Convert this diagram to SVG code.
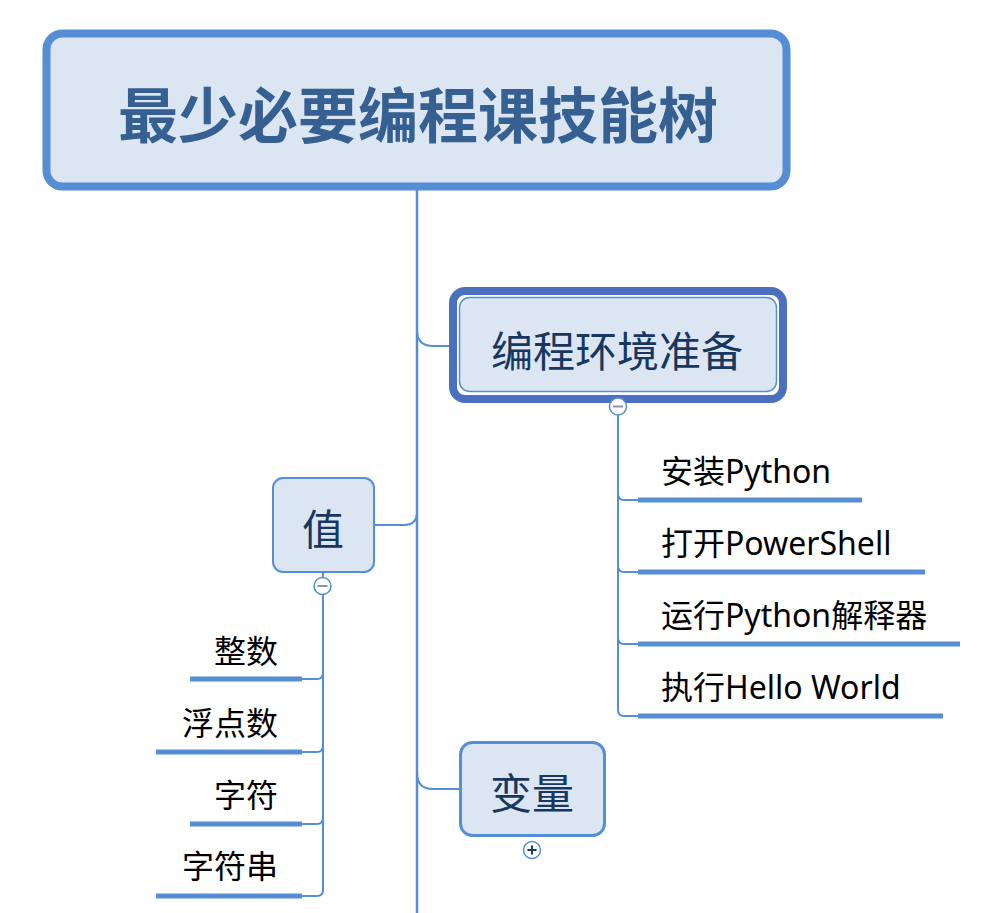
<svg xmlns="http://www.w3.org/2000/svg" width="989" height="913" viewBox="0 0 989 913">
<style>
.ln{fill:none;stroke:#558ed5;stroke-width:2}
.ul{fill:none;stroke:#558ed5;stroke-width:5}
.box{fill:#dce6f2;stroke:#558ed5}
.t{font-family:"Noto Sans CJK SC","Liberation Sans",sans-serif}
.nt{font-size:42px;fill:#17375e;text-anchor:middle}
.ct{font-family:"Noto Sans","Noto Sans CJK SC",sans-serif;font-size:32px;fill:#000}
.tog{fill:#fff;stroke:#558ed5;stroke-width:1.5}
</style>
<rect width="989" height="913" fill="#fff"/>
<g id="connectors">
<path class="ln" d="M417 190 V913" style="stroke-width:2.5"/>
<path class="ln" d="M417 330 Q417 346 433 346 H451"/>
<path class="ln" d="M374 525 H404 Q417 525 417 512"/>
<path class="ln" d="M417 773 Q417 789 433 789 H459"/>
<path class="ln" d="M618 392 V398"/>
<path class="ln" d="M618 415 V710 Q618 716 624 716 H640"/>
<path class="ln" d="M618 494 Q618 500 624 500 H640"/>
<path class="ln" d="M618 566 Q618 572 624 572 H640"/>
<path class="ln" d="M618 638 Q618 644 624 644 H640"/>
<path class="ln" d="M323 572 V578"/>
<path class="ln" d="M323 595 V890 Q323 896 317 896 H300"/>
<path class="ln" d="M323 673 Q323 679 317 679 H300"/>
<path class="ln" d="M323 746 Q323 752 317 752 H300"/>
<path class="ln" d="M323 818 Q323 824 317 824 H300"/>
</g>
<g id="root">
<rect x="46.5" y="33.5" width="740" height="153" rx="16" fill="#dce6f2" stroke="#558ed5" stroke-width="8"/>
<text class="t" x="418" y="138" font-size="60" font-weight="bold" fill="#376092" text-anchor="middle">最少必要编程课技能树</text>
</g>
<g id="env">
<rect x="453" y="291" width="330" height="108" rx="12" fill="#fff" stroke="#4a70bf" stroke-width="8"/>
<rect x="459.5" y="297.5" width="317" height="94" rx="10" fill="#dce6f2" stroke="#558ed5" stroke-width="1.5"/>
<text class="t nt" x="617" y="367">编程环境准备</text>
<circle class="tog" cx="618" cy="406.5" r="8.5"/>
<path d="M613 406.5 H623" stroke="#8497b0" stroke-width="2"/>
</g>
<g id="env-1"><text class="ct" x="661" y="483">安装Python</text><path class="ul" d="M638 500 H862"/></g>
<g id="env-2"><text class="ct" x="661" y="555">打开PowerShell</text><path class="ul" d="M638 572 H925"/></g>
<g id="env-3"><text class="ct" x="661" y="627">运行Python解释器</text><path class="ul" d="M638 644 H960"/></g>
<g id="env-4"><text class="ct" x="661" y="699">执行Hello World</text><path class="ul" d="M638 716 H943"/></g>
<g id="value">
<rect class="box" x="273" y="478" width="101" height="94" rx="10" stroke-width="2"/>
<text class="t nt" x="323" y="545">值</text>
<circle class="tog" cx="322.5" cy="586" r="8.5"/>
<path d="M317.5 586 H327.5" stroke="#8497b0" stroke-width="2"/>
</g>
<g id="value-1"><text class="ct" x="278" y="663" text-anchor="end">整数</text><path class="ul" d="M190 679 H302"/></g>
<g id="value-2"><text class="ct" x="278" y="735" text-anchor="end">浮点数</text><path class="ul" d="M156 752 H302"/></g>
<g id="value-3"><text class="ct" x="278" y="807" text-anchor="end">字符</text><path class="ul" d="M190 824 H302"/></g>
<g id="value-4"><text class="ct" x="278" y="878" text-anchor="end">字符串</text><path class="ul" d="M156 896 H302"/></g>
<g id="var">
<rect class="box" x="460.5" y="742.5" width="144" height="93" rx="12" stroke-width="3"/>
<text class="t nt" x="532" y="809">变量</text>
<circle class="tog" cx="532" cy="850" r="8.5"/>
<path d="M527.5 850 H536.5 M532 845.5 V854.5" stroke="#17375e" stroke-width="2"/>
</g>
</svg>
